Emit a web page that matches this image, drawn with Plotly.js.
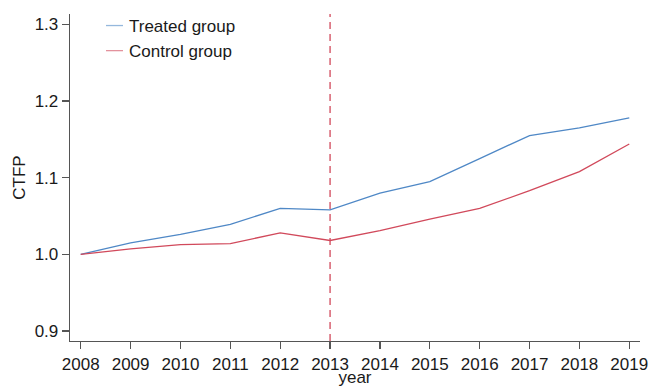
<!DOCTYPE html>
<html>
<head>
<meta charset="utf-8">
<script src="https://cdn.plot.ly/plotly-3.0.1.min.js"></script>
<style>html,body{margin:0;padding:0;background:#fff}#chart{width:651px;height:387px}</style>
</head>
<body>
<div id="chart"></div>
<script>
var years = [2008, 2009, 2010, 2011, 2012, 2013, 2014, 2015, 2016, 2017, 2018, 2019];
var treated = [1.000, 1.015, 1.026, 1.039, 1.060, 1.058, 1.080, 1.095, 1.125, 1.155, 1.165, 1.178];
var control = [1.000, 1.007, 1.0125, 1.014, 1.028, 1.018, 1.031, 1.046, 1.060, 1.083, 1.108, 1.144];
var seriesNames = ["Treated group", "Control group"];
var yTicks = [0.9, 1.0, 1.1, 1.2, 1.3];
var yTickText = ["0.9", "1.0", "1.1", "1.2", "1.3"];
var policyYear = 2013;

var blue = "#4f88c6", red = "#d1495b", axisCol = "#555555";
var font = {family: "Liberation Sans, Arial, sans-serif", size: 17, color: "#1a1a1a"};

var traces = [
  {x: years, y: treated, name: seriesNames[0], type: "scatter", mode: "lines",
   line: {color: blue, width: 1.3}},
  {x: years, y: control, name: seriesNames[1], type: "scatter", mode: "lines",
   line: {color: red, width: 1.3}}
];

var layout = {
  width: 651, height: 387,
  margin: {l: 70, r: 11, t: 14, b: 46, autoexpand: false},
  paper_bgcolor: "#fff", plot_bgcolor: "#fff",
  font: font,
  showlegend: true,
  legend: {x: 0.0333, y: 1.0184, xanchor: "left", yanchor: "top", bgcolor: "rgba(0,0,0,0)",
           font: font, itemwidth: 30, tracegroupgap: 0},
  xaxis: {
    range: [2007.785, 2019.215], tickvals: years, ticktext: years.map(String),
    showgrid: false, zeroline: false, showline: true, linecolor: axisCol, linewidth: 1.3,
    ticks: "outside", ticklen: 7, tickcolor: axisCol, tickwidth: 1.3, automargin: false,
    tickfont: font, title: {text: "year", font: font, standoff: 8}
  },
  yaxis: {
    range: [0.8868, 1.3137], tickvals: yTicks, ticktext: yTickText,
    showgrid: false, zeroline: false, showline: true, linecolor: axisCol, linewidth: 1.3,
    ticks: "outside", ticklen: 7, tickcolor: axisCol, tickwidth: 1.3, automargin: false,
    tickfont: font, title: {text: "CTFP", font: font, standoff: 4}
  },
  shapes: [{type: "line", xref: "x", yref: "paper", x0: policyYear, x1: policyYear, y0: 0, y1: 1,
            line: {color: red, width: 1.3, dash: "7px,5px"}}]
};

Plotly.newPlot("chart", traces, layout, {displayModeBar: false, staticPlot: true}).then(function (gd) {
  // shorten legend sample lines to match the reference's short swatches
  var paths = gd.querySelectorAll(".legend .legendlines path");
  paths.forEach(function (p) { p.setAttribute("d", "M17,0h17"); p.style.strokeOpacity = 0.6; });
});
</script>
</body>
</html>
